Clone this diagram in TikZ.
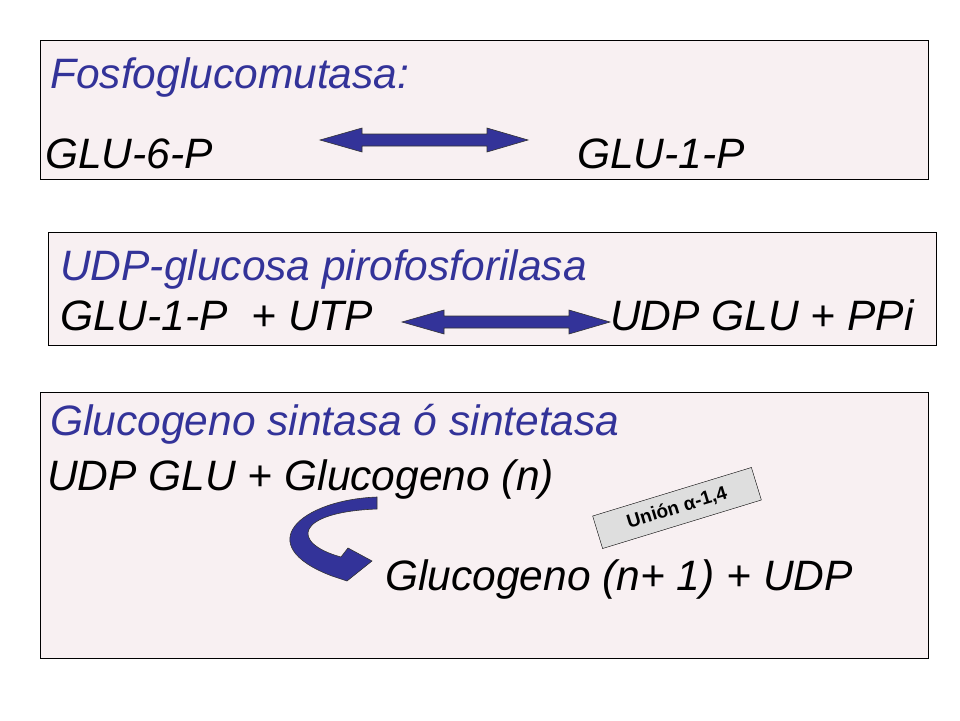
\documentclass[tikz,border=0pt]{standalone}
\usepackage{fontspec}
\setmainfont{Liberation Sans}
\definecolor{hdr}{HTML}{333399}
\definecolor{boxbg}{HTML}{F8F0F2}
\definecolor{arr}{HTML}{333399}
\begin{document}
\begin{tikzpicture}[x=1pt,y=-1pt,
  panel/.style={draw=black,fill=boxbg,line width=0.8pt},
  txt/.style={anchor=base west,inner sep=0pt,font=\fontsize{42.5}{46}\selectfont\itshape},
  head/.style={txt,text=hdr},
  darr/.style={fill=arr,draw=black!80,line width=0.6pt}]
\useasboundingbox (0,0) rectangle (960,720);
\fill[white] (0,0) rectangle (960,720);
\draw[panel] (40,40) rectangle (928,179);
\draw[panel] (48,232) rectangle (936,345);
\draw[panel] (40,392) rectangle (928,658);
\node[head] (t1) at (50,88) {Fosfoglucomutasa:};
\node[txt] (a1) at (45,168) {GLU-6-P};
\node[txt] (b1) at (577,168) {GLU-1-P};
\draw[darr] (320,140) -- (362,128) -- (362,134) -- (487,134) -- (487,128) -- (528,140) -- (487,152) -- (487,146) -- (362,146) -- (362,152) -- cycle;
\node[head] (t2) at (60,280) {UDP-glucosa pirofosforilasa};
\node[txt] (a2) at (60,330) {GLU-1-P \ + UTP};
\node[txt] (b2) at (610,330) {UDP GLU + PPi};
\draw[darr] (402,322) -- (444,310) -- (444,316) -- (569,316) -- (569,310) -- (610,322) -- (569,334) -- (569,328) -- (444,328) -- (444,334) -- cycle;
\node[head] (t3) at (50,435) {Glucogeno sintasa ó sintetasa};
\node[txt] (a3) at (47,490) {UDP GLU + Glucogeno (n)};
\node[txt] (b3) at (385,590) {Glucogeno (n+ 1) + UDP};
\draw[darr] (377,497) .. controls (300,500) and (250,545) .. (332,576) -- (347,581) -- (372,561) -- (348,548) -- (341,557) .. controls (290,543) and (295,512) .. (377,509) -- cycle;
\node[draw=black,fill=black!13,rotate=17,minimum width=166pt,minimum height=34pt,inner sep=0pt,font=\fontsize{19}{21}\selectfont\bfseries] (u) at (677,508) {Unión α-1,4};
\end{tikzpicture}
\end{document}
